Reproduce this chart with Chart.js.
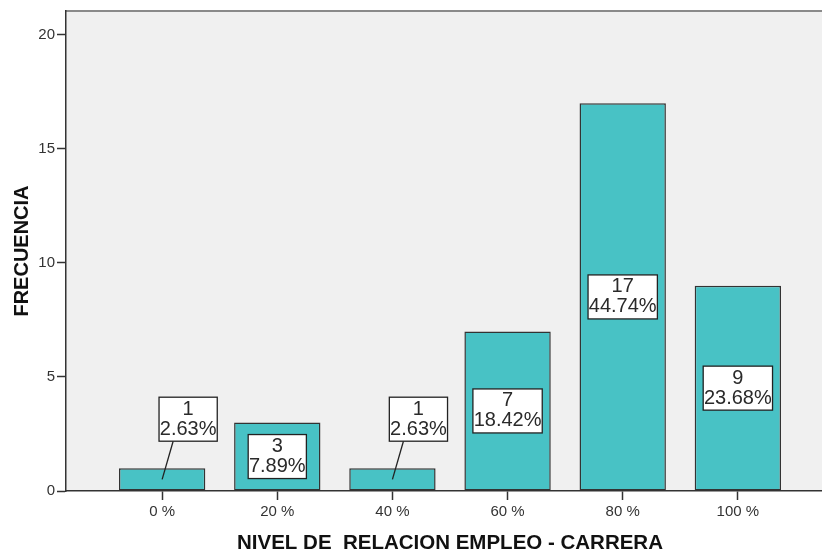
<!DOCTYPE html>
<html>
<head>
<meta charset="utf-8">
<script src="https://cdn.jsdelivr.net/npm/chart.js@4/dist/chart.umd.min.js"></script>
<style>
  html, body { margin: 0; padding: 0; background: #fff; overflow: hidden; }
  #wrap { width: 834px; height: 554px; }
</style>
</head>
<body>
<div id="wrap"><canvas id="chart" width="834" height="554"></canvas></div>
<script>
// SPSS style frequency chart
const categories = ['0 %', '20 %', '40 %', '60 %', '80 %', '100 %']
const counts = [1, 3, 1, 7, 17, 9]
const percents = ['2.63%', '7.89%', '2.63%', '18.42%', '44.74%', '23.68%']
const yTicks = [0, 5, 10, 15, 20]

const family = '"Liberation Sans", Arial, sans-serif'
const labelFont = '20px ' + family

// plot background + top frame line
const plotBg = {
  id: 'plotBg',
  beforeDraw(chart) {
    const { ctx, chartArea: a } = chart
    ctx.save()
    ctx.fillStyle = '#f0f0f0'
    ctx.fillRect(a.left, a.top, a.right - a.left, a.bottom - a.top)
    ctx.strokeStyle = '#8a8a8a'
    ctx.lineWidth = 2
    ctx.beginPath()
    ctx.moveTo(a.left, a.top)
    ctx.lineTo(a.right, a.top)
    ctx.lineTo(a.right, a.bottom)
    ctx.stroke()
    ctx.restore()
  }
}

// count / percent boxes
const boxLabels = {
  id: 'boxLabels',
  afterDatasetsDraw(chart) {
    const { ctx } = chart
    const meta = chart.getDatasetMeta(0)
    ctx.save()
    ctx.font = labelFont
    ctx.textAlign = 'center'
    ctx.textBaseline = 'middle'
    meta.data.forEach((bar, i) => {
      const t1 = String(counts[i]), t2 = percents[i]
      const w = Math.max(ctx.measureText(t1).width, ctx.measureText(t2).width) + 1.5
      const h = 44
      const barH = bar.base - bar.y
      let cx = bar.x, cy = (bar.y + bar.base) / 2
      let leader = null
      if (barH < h + 6) {
        // too short: put the box above, with a leader line
        cx = bar.x + 26
        cy = bar.y - 27 - h / 2
        leader = [bar.x, (bar.y + bar.base) / 2, bar.x + 11, bar.y - 27]
      }
      if (leader) {
        ctx.strokeStyle = '#222'
        ctx.lineWidth = 1.3
        ctx.beginPath()
        ctx.moveTo(leader[0], leader[1])
        ctx.lineTo(leader[2], leader[3])
        ctx.stroke()
      }
      ctx.fillStyle = '#fff'
      ctx.fillRect(cx - w / 2, cy - h / 2, w, h)
      ctx.strokeStyle = '#222'
      ctx.lineWidth = 1.3
      ctx.strokeRect(cx - w / 2, cy - h / 2, w, h)
      ctx.fillStyle = '#2a2a2a'
      ctx.fillText(t1, cx, cy - 10)
      ctx.fillText(t2, cx, cy + 10)
    })
    ctx.restore()
  }
}

new Chart(document.getElementById('chart'), {
  type: 'bar',
  data: {
    datasets: [{
      data: counts.map((v, i) => ({ x: i, y: v })),
      backgroundColor: '#48c2c5',
      borderColor: '#333',
      borderWidth: 1.5,
      borderSkipped: false,
      categoryPercentage: 1,
      barPercentage: 0.75
    }]
  },
  options: {
    responsive: false,
    animation: false,
    devicePixelRatio: 1,
    layout: { padding: { top: 10, left: 0, right: 0, bottom: 0 } },
    plugins: { legend: { display: false }, tooltip: { enabled: false } },
    scales: {
      x: {
        type: 'linear',
        min: -0.835,
        max: 5.835,
        offset: false,
        afterBuildTicks: s => { s.ticks = categories.map((c, i) => ({ value: i })) },
        afterFit: s => { s.height = 63 },
        grid: { offset: false, drawOnChartArea: false, color: '#333', tickLength: 9, tickWidth: 1.5 },
        border: { color: '#333', width: 1.5 },
        ticks: {
          autoSkip: false,
          maxRotation: 0,
          padding: 3,
          color: '#333',
          font: { family, size: 15 },
          callback: v => categories[v]
        },
        title: {
          display: true,
          text: 'NIVEL DE  RELACION EMPLEO - CARRERA',
          color: '#111',
          font: { family, size: 20.5, weight: 'bold', lineHeight: 1.07 },
          padding: { top: 0, bottom: 0 }
        }
      },
      y: {
        min: 0,
        max: 21.05,
        afterBuildTicks: s => { s.ticks = yTicks.map(v => ({ value: v })) },
        afterFit: s => { s.width = 66 },
        grid: { drawOnChartArea: false, color: '#333', tickLength: 9, tickWidth: 1.5 },
        border: { color: '#333', width: 1.5 },
        ticks: {
          padding: 2,
          color: '#333',
          font: { family, size: 15 }
        },
        title: {
          display: true,
          text: 'FRECUENCIA',
          color: '#111',
          font: { family, size: 20, weight: 'bold' },
          padding: { top: 10.5, bottom: 0 }
        }
      }
    }
  },
  plugins: [plotBg, boxLabels]
})
</script>
</body>
</html>
